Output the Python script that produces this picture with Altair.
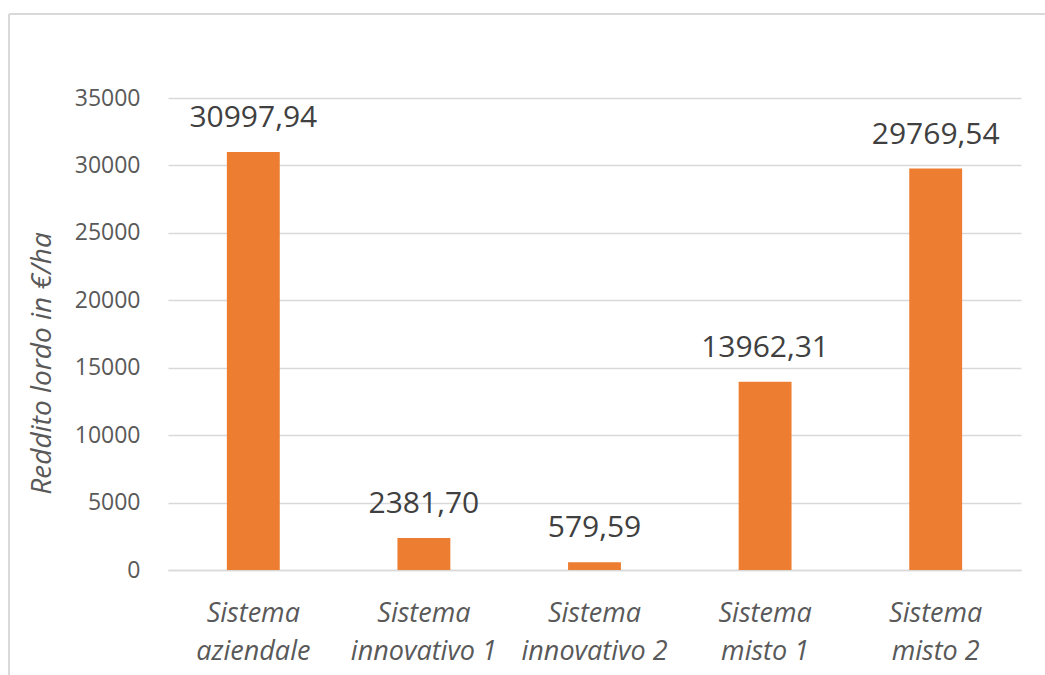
import altair as alt
import pandas as pd

# Gross income per hectare for each cropping system
systems = [
    "Sistema aziendale",
    "Sistema innovativo 1",
    "Sistema innovativo 2",
    "Sistema misto 1",
    "Sistema misto 2",
]
x_labels = [
    ["Sistema", "aziendale"],
    ["Sistema", "innovativo 1"],
    ["Sistema", "innovativo 2"],
    ["Sistema", "misto 1"],
    ["Sistema", "misto 2"],
]
reddito = [30997.94, 2381.70, 579.59, 13962.31, 29769.54]
y_ticks = [0, 5000, 10000, 15000, 20000, 25000, 30000, 35000]

df = pd.DataFrame({
    "sistema": systems,
    "reddito": reddito,
    "etichetta": [f"{v:.2f}".replace(".", ",") for v in reddito],
})

label_map = {s: l for s, l in zip(systems, x_labels)}
label_expr = "{" + ", ".join(
    f"'{s}': ['{l[0]}', '{l[1]}']" for s, l in label_map.items()
) + "}[datum.value]"

FONT = "Open Sans"
W, H = 853, 472
LEFT, TOP = 168, 98

x_enc = alt.X(
    "sistema:N",
    sort=systems,
    scale=alt.Scale(paddingInner=0.69, paddingOuter=0.345),
    axis=alt.Axis(
        title=None,
        labelExpr=label_expr,
        labelAngle=0,
        labelFont=FONT,
        labelFontSize=27,
        labelFontStyle="italic",
        labelColor="#595959",
        labelPadding=30,
        labelLineHeight=38,
        labelBaseline="top",
        ticks=False,
        domain=True,
        domainColor="#d9d9d9",
        domainWidth=1.3,
    ),
)
y_enc = alt.Y(
    "reddito:Q",
    scale=alt.Scale(domain=[0, 35000], nice=False),
    axis=alt.Axis(
        values=y_ticks,
        format="d",
        title="Reddito lordo in €/ha",
        titleFont=FONT,
        titleFontSize=28,
        titleFontStyle="italic",
        titleFontWeight="normal",
        titleColor="#595959",
        titleX=-126,
        titleY=265,
        titleAngle=270,
        titleAlign="center",
        titleBaseline="middle",
        labelFont=FONT,
        labelFontSize=23,
        labelColor="#595959",
        labelPadding=28,
        ticks=False,
        domain=False,
        grid=True,
        gridColor="#d9d9d9",
        gridWidth=1.3,
    ),
)

bars = alt.Chart(df).mark_bar(color="#ED7D31").encode(x=x_enc, y=y_enc)

labels = alt.Chart(df).mark_text(
    font=FONT, fontSize=30, color="#404040", baseline="alphabetic", dy=-25
).encode(x=alt.X("sistema:N", sort=systems), y="reddito:Q", text="etichetta:N")

# Light frame around the chart: top and left edges
frame_top = alt.Chart(df).mark_rule(color="#d9d9d9", strokeWidth=1.5).encode(
    x=alt.value(9 - LEFT), x2=alt.value(1045 - LEFT), y=alt.value(14 - TOP)
)
frame_left = alt.Chart(df).mark_rule(color="#d9d9d9", strokeWidth=1.5).encode(
    x=alt.value(9 - LEFT), y=alt.value(14 - TOP), y2=alt.value(675 - TOP)
)

chart = (
    alt.layer(frame_top, frame_left, bars, labels)
    .properties(
        width=W,
        height=H,
        autosize=alt.AutoSizeParams(type="none"),
        padding={"left": LEFT, "top": TOP, "right": 1045 - LEFT - W, "bottom": 675 - TOP - H},
        background="white",
    )
    .configure_view(stroke=None)
)

chart.save("out.html", embed_options={"renderer": "svg", "actions": False})
